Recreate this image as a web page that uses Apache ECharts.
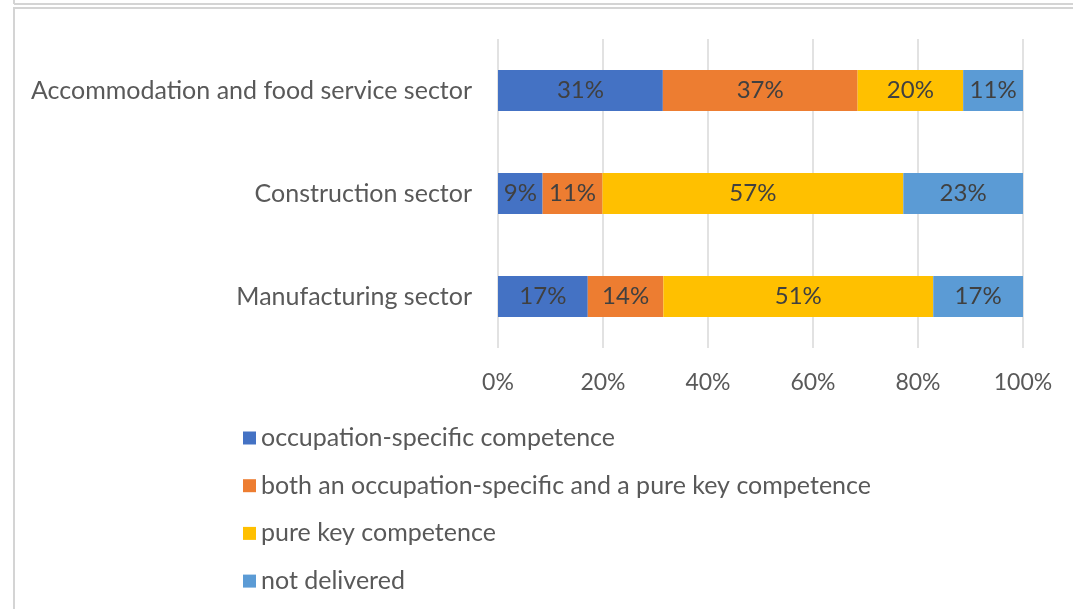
<!DOCTYPE html>
<html>
<head>
<meta charset="utf-8">
<script src="https://cdn.jsdelivr.net/npm/echarts@6/dist/echarts.min.js"></script>
<style>
  html, body { margin: 0; padding: 0; background: #fff; }
  #main { width: 1073px; height: 609px; }
</style>
</head>
<body>
<div id="main"></div>
<script>
// sectors, top to bottom
var sectors = ['Accommodation and food service sector', 'Construction sector', 'Manufacturing sector'];
var seriesNames = [
  'occupation-specific competence',
  'both an occupation-specific and a pure key competence',
  'pure key competence',
  'not delivered'
];
var colors = ['#4472C4', '#ED7D31', '#FFC000', '#5B9BD5'];

// shares in %, one array per series (same order as sectors)
var occupationSpecific = [31.4, 8.5, 17.1];
var bothCompetences = [37.1, 11.4, 14.4];
var pureKey = [20.1, 57.3, 51.4];
var notDelivered = [11.4, 22.8, 17.1];

var xTicks = [0, 20, 40, 60, 80, 100];

var allValues = [occupationSpecific, bothCompetences, pureKey, notDelivered];
var font = 'Lato';

var series = [];
for (var i = 0; i < allValues.length; i++) {
  series.push({
    name: seriesNames[i],
    type: 'bar',
    stack: 'total',
    barWidth: '40%',
    itemStyle: { color: colors[i] },
    label: {
      show: true,
      position: 'inside',
      color: '#404040',
      fontFamily: font,
      fontSize: 24,
      formatter: function (p) { return Math.round(p.value) + '%'; }
    },
    data: allValues[i]
  });
}

var myChart = echarts.init(document.getElementById('main'));
var option = {
  animation: false,
  textStyle: { fontFamily: font },
  graphic: [
    // frame of the box above, and the chart frame
    { type: 'line', shape: { x1: 14, y1: 0, x2: 14, y2: 4 }, style: { stroke: '#d4d4d4', lineWidth: 2 } },
    { type: 'line', shape: { x1: 14, y1: 4, x2: 1073, y2: 4 }, style: { stroke: '#d4d4d4', lineWidth: 2 } },
    { type: 'rect', shape: { x: 14, y: 8, width: 1080, height: 620 }, style: { fill: 'none', stroke: '#d4d4d4', lineWidth: 2 } }
  ],
  grid: { left: 498, right: 50, top: 39, bottom: 261 },
  legend: {
    orient: 'vertical',
    left: 238,
    top: 420,
    itemWidth: 13,
    itemHeight: 13,
    itemGap: 21.7,
    itemTextGap: 7,
    icon: 'rect',
    data: seriesNames,
    textStyle: { color: '#595959', fontSize: 25, lineHeight: 26, fontFamily: font }
  },
  xAxis: {
    type: 'value',
    min: xTicks[0],
    max: xTicks[xTicks.length - 1],
    interval: xTicks[1] - xTicks[0],
    axisLine: { show: false },
    axisTick: { show: false },
    splitLine: { lineStyle: { color: '#d9d9d9', width: 1.5 } },
    axisLabel: { color: '#595959', fontSize: 23, margin: 23, formatter: '{value}%' }
  },
  yAxis: {
    type: 'category',
    inverse: true,
    data: sectors,
    axisLine: { show: false },
    axisTick: { show: false },
    axisLabel: { color: '#595959', fontSize: 25, margin: 26 }
  },
  series: series
};
myChart.setOption(option);
</script>
</body>
</html>
